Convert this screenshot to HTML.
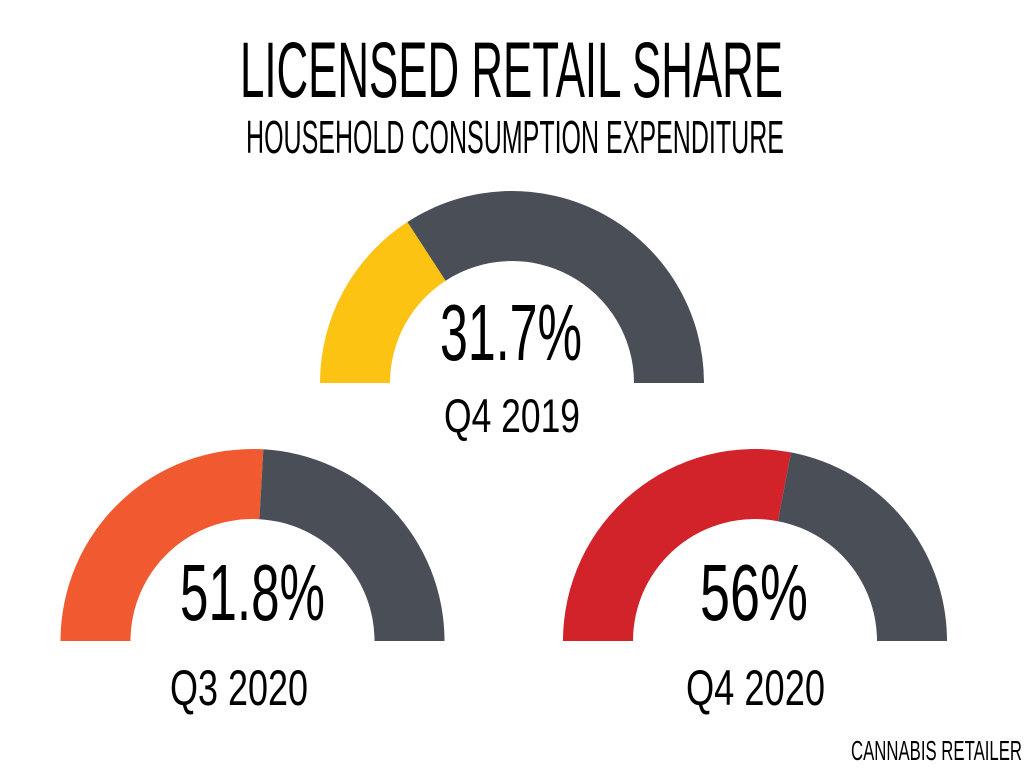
<!DOCTYPE html>
<html><head><meta charset="utf-8"><style>
html,body{margin:0;padding:0;background:#fff;width:1024px;height:768px;overflow:hidden}
text{font-family:"Liberation Sans Narrow","Liberation Sans",sans-serif;fill:#000}
</style></head><body>
<svg width="1024" height="768" viewBox="0 0 1024 768" xmlns="http://www.w3.org/2000/svg">
<rect width="1024" height="768" fill="#fff"/>
<!-- top gauge -->
<path d="M320,383 A192,192 0 0 1 407.4,222 L445.6,280.7 A122,122 0 0 0 390,383 Z" fill="#fcc312"/>
<path d="M407.4,222 A192,192 0 0 1 704,383 L634,383 A122,122 0 0 0 445.6,280.7 Z" fill="#4a4f57"/>
<!-- bottom left -->
<path d="M60.5,641 A192,192 0 0 1 263.35,449.3 L259.4,519.2 A122,122 0 0 0 130.5,641 Z" fill="#f15a31"/>
<path d="M263.35,449.3 A192,192 0 0 1 444.5,641 L374.5,641 A122,122 0 0 0 259.4,519.2 Z" fill="#4a4f57"/>
<!-- bottom right -->
<path d="M563,641 A192,192 0 0 1 791,452.4 L777.9,521.2 A122,122 0 0 0 633,641 Z" fill="#d2232a"/>
<path d="M791,452.4 A192,192 0 0 1 947,641 L877,641 A122,122 0 0 0 777.9,521.2 Z" fill="#4a4f57"/>

<text x="240" y="97" font-size="79" textLength="543" lengthAdjust="spacingAndGlyphs">LICENSED RETAIL SHARE</text>
<text x="246" y="153" font-size="46" textLength="538" lengthAdjust="spacingAndGlyphs">HOUSEHOLD CONSUMPTION EXPENDITURE</text>
<text x="440" y="360" font-size="80" textLength="142" lengthAdjust="spacingAndGlyphs">31.7%</text>
<text x="444" y="432" font-size="47" textLength="136" lengthAdjust="spacingAndGlyphs">Q4 2019</text>
<text x="180" y="620" font-size="80" textLength="145" lengthAdjust="spacingAndGlyphs">51.8%</text>
<text x="170" y="705" font-size="50" textLength="138" lengthAdjust="spacingAndGlyphs">Q3 2020</text>
<text x="700" y="620" font-size="80" textLength="108" lengthAdjust="spacingAndGlyphs">56%</text>
<text x="686" y="705" font-size="50" textLength="139" lengthAdjust="spacingAndGlyphs">Q4 2020</text>
<text x="851" y="760" font-size="28" textLength="171" lengthAdjust="spacingAndGlyphs">CANNABIS RETAILER</text>
</svg>
</body></html>
